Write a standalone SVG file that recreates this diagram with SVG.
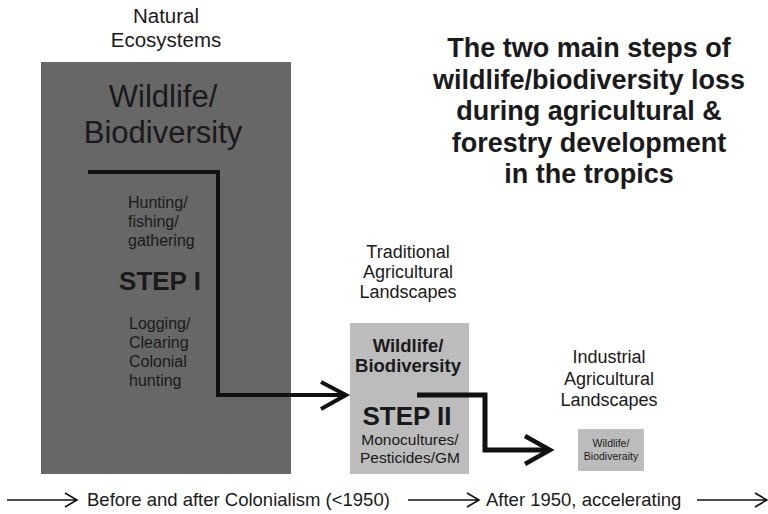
<svg xmlns="http://www.w3.org/2000/svg" width="768" height="514" viewBox="0 0 768 514">
<style>
text{font-family:"Liberation Sans",Arial,sans-serif;fill:#1a1a1a}
.c{text-anchor:middle}
.b{font-weight:bold}
.big{stroke:#111;fill:none;stroke-linejoin:miter}
.thin{stroke:#111;fill:none;stroke-width:1.6}
</style>
<rect width="768" height="514" fill="#fff"/>
<g id="title">
<text class="c b" x="589" y="57" font-size="27">The two main steps of</text>
<text class="c b" x="589" y="88.5" font-size="27">wildlife/biodiversity loss</text>
<text class="c b" x="589" y="120" font-size="27">during agricultural &amp;</text>
<text class="c b" x="589" y="151.5" font-size="27">forestry development</text>
<text class="c b" x="589" y="183" font-size="27">in the tropics</text>
</g>
<g id="natural">
<text class="c" x="166" y="23" font-size="20.5">Natural</text>
<text class="c" x="166" y="47" font-size="20.5">Ecosystems</text>
<rect x="41" y="62" width="250" height="412" fill="#676767"/>
<text class="c" x="163" y="107" font-size="31">Wildlife/</text>
<text class="c" x="163" y="143" font-size="31">Biodiversity</text>
<text x="128" y="208" font-size="16">Hunting/</text>
<text x="128" y="227" font-size="16">fishing/</text>
<text x="128" y="246" font-size="16">gathering</text>
<text class="c b" x="160" y="290" font-size="26">STEP I</text>
<text x="129" y="329" font-size="16">Logging/</text>
<text x="129" y="348" font-size="16">Clearing</text>
<text x="129" y="367" font-size="16">Colonial</text>
<text x="129" y="386" font-size="16">hunting</text>
</g>
<g id="traditional">
<text class="c" x="408" y="258" font-size="18">Traditional</text>
<text class="c" x="408" y="278" font-size="18">Agricultural</text>
<text class="c" x="408" y="298" font-size="18">Landscapes</text>
<rect x="350" y="323" width="119" height="151" fill="#bcbcbc"/>
<text class="c b" x="408" y="352" font-size="18.5">Wildlife/</text>
<text class="c b" x="408" y="372" font-size="18.5">Biodiversity</text>
<text class="c b" x="407" y="425" font-size="26">STEP II</text>
<text class="c" x="410" y="445" font-size="15.5">Monocultures/</text>
<text class="c" x="410" y="463" font-size="15.5">Pesticides/GM</text>
</g>
<g id="industrial">
<text class="c" x="609" y="363" font-size="18">Industrial</text>
<text class="c" x="609" y="385" font-size="18">Agricultural</text>
<text class="c" x="609" y="406" font-size="18">Landscapes</text>
<rect x="578" y="429" width="66" height="42" fill="#bcbcbc"/>
<text class="c" x="611" y="447" font-size="10.5">Wildlife/</text>
<text class="c" x="611" y="460" font-size="10.5">Biodiveraity</text>
</g>
<g id="connectors">
<path class="big" stroke-width="4" d="M88 172H218V395H345"/>
<path class="big" stroke-width="4" d="M321 382L346 395L321 409"/>
<path class="big" stroke-width="5" d="M417 395H485V450H548"/>
<path class="big" stroke-width="4.5" d="M525 436L550 450L525 464"/>
<path class="thin" d="M7 500H77M65 493L77 500L65 507"/>
<path class="thin" d="M408 500H479M467 493L479 500L467 507"/>
<path class="thin" d="M697 500H767M755 493L767 500L755 507"/>
</g>
<g id="timeline">
<text x="87" y="506" font-size="18.5">Before and after Colonialism (&lt;1950)</text>
<text x="486" y="506" font-size="18.5">After 1950, accelerating</text>
</g>
</svg>
